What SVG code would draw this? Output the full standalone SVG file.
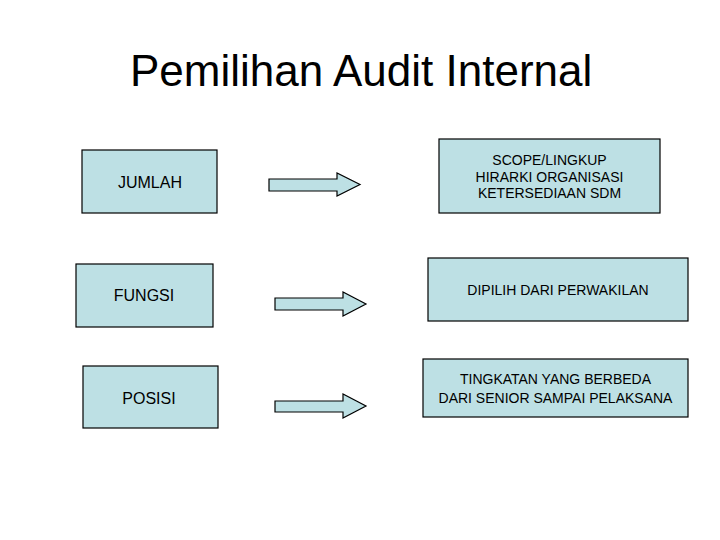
<svg xmlns="http://www.w3.org/2000/svg" width="720" height="540" viewBox="0 0 720 540">
<style>
.box{fill:#bde0e4;stroke:#000;stroke-width:1.2}
.arr{fill:#bde0e4;stroke:#000;stroke-width:1.2;stroke-linejoin:miter}
.lt{font-family:"Liberation Sans",Arial,sans-serif;font-size:16px;fill:#000;text-anchor:middle}
.rt{font-family:"Liberation Sans",Arial,sans-serif;font-size:14px;fill:#000;text-anchor:middle}
.title{font-family:"Liberation Sans",Arial,sans-serif;font-size:44px;fill:#000}
</style>
<rect width="720" height="540" fill="#fff"/>
<text class="title" x="130" y="86">Pemilihan Audit Internal</text>
<g id="jumlah"><rect class="box" x="82" y="150" width="135" height="63"/><text class="lt" x="150" y="188">JUMLAH</text></g>
<g id="fungsi"><rect class="box" x="76" y="264" width="137" height="63"/><text class="lt" x="144" y="301">FUNGSI</text></g>
<g id="posisi"><rect class="box" x="83" y="366" width="135" height="62"/><text class="lt" x="149" y="404">POSISI</text></g>
<g id="scope"><rect class="box" x="439" y="139" width="221" height="74"/>
<text class="rt" x="549.5" y="165">SCOPE/LINGKUP</text>
<text class="rt" x="549.5" y="182">HIRARKI ORGANISASI</text>
<text class="rt" x="549.5" y="198">KETERSEDIAAN SDM</text></g>
<g id="dipilih"><rect class="box" x="428" y="258" width="260" height="63"/><text class="rt" x="558" y="295">DIPILIH DARI PERWAKILAN</text></g>
<g id="tingkatan"><rect class="box" x="423" y="359" width="265" height="58"/>
<text class="rt" x="555.5" y="384">TINGKATAN YANG BERBEDA</text>
<text class="rt" x="555.5" y="403">DARI SENIOR SAMPAI PELAKSANA</text></g>
<g id="connectors">
<polygon class="arr" points="269,179 337,179 337,173 360,184.5 337,196 337,191 269,191"/>
<polygon class="arr" points="275,298 343,298 343,292 366,304 343,316 343,310 275,310"/>
<polygon class="arr" points="275,401 343,401 343,394 366,406 343,418 343,412 275,412"/>
</g>
</svg>
